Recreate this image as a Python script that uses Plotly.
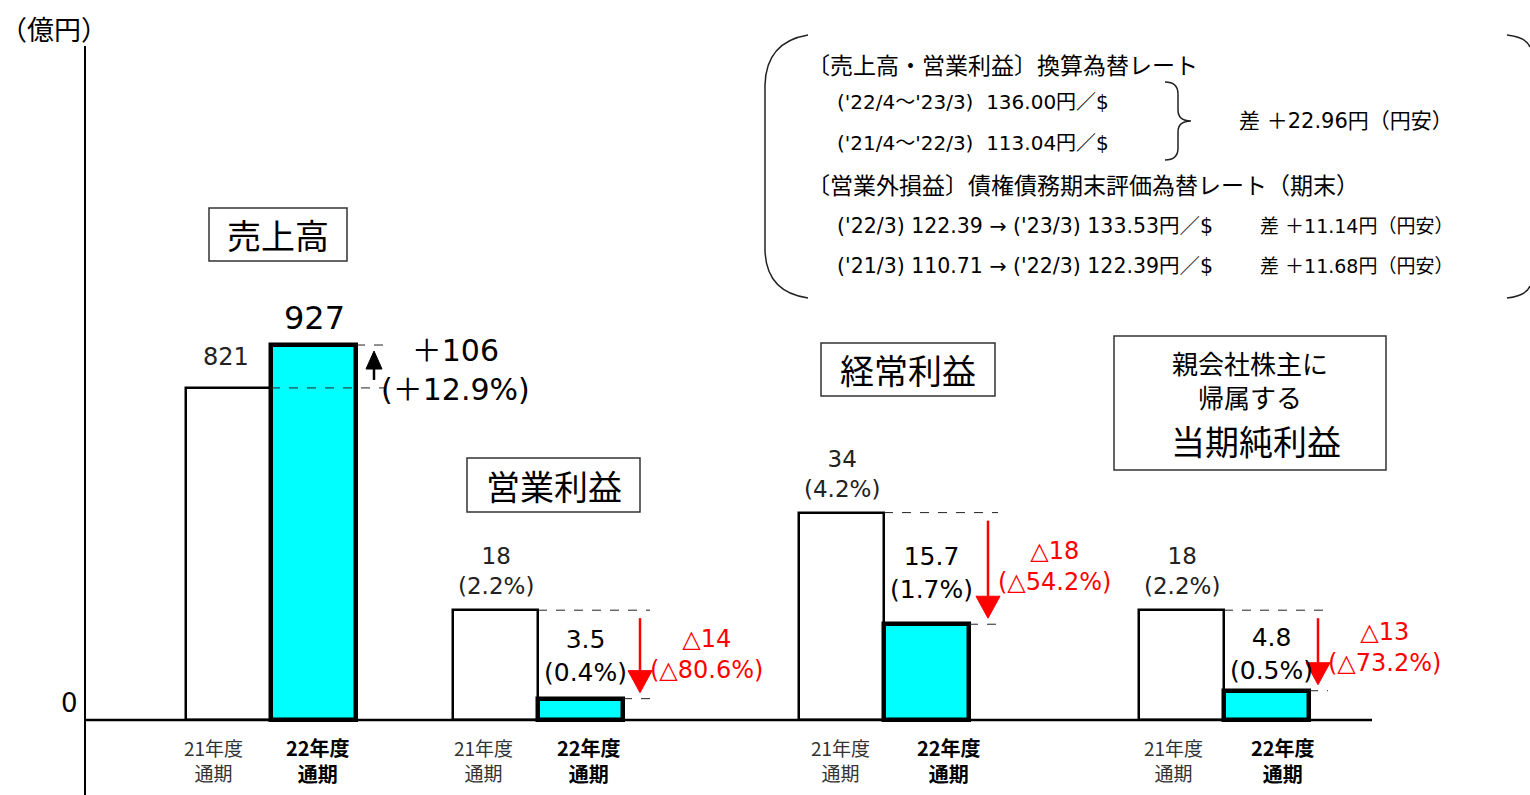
import plotly.graph_objects as go

# ---------------- data ----------------
segments = ["売上高", "営業利益", "経常利益", "親会社株主に帰属する当期純利益"]
fy21 = [821, 18, 34, 18]            # 21年度通期（億円）
fy22 = [927, 3.5, 15.7, 4.8]        # 22年度通期（億円）
ratio21 = [None, 2.2, 4.2, 2.2]     # 売上高比（%）
ratio22 = [None, 0.4, 1.7, 0.5]
diff = [106, -14, -18, -13]
diff_pct = [12.9, -80.6, -54.2, -73.2]
period_labels = ["21年度<br>通期", "<b>22年度<br>通期</b>"]
unit_label = "（億円）"

fx_avg_periods = ["'22/4～'23/3", "'21/4～'22/3"]
fx_avg_rates = ["136.00", "113.04"]
fx_avg_diff = "22.96"
fx_end_from = [("'22/3", "122.39"), ("'21/3", "110.71")]
fx_end_to = [("'23/3", "133.53"), ("'22/3", "122.39")]
fx_end_diff = ["11.14", "11.68"]

# ---------------- layout constants ----------------
W, H = 1530, 795
ZERO_PX = 720            # pixel row of the zero line
SALES_K = 0.4045         # px per 億円 (sales scale)
PROFIT_K = 6.1           # px per 億円 (profit scale)
FONT = "Noto Sans CJK JP"
NUM_FONT = "DejaVu Sans, Noto Sans CJK JP"
CYAN = "#00FFFF"
RED = "#FF0000"

group_center = [271, 538, 884, 1224]
BAR_W = 85
arrow_x = [374, 640, 988, 1318]
label22_shift = [0, 10, 18, 4]
red_shift = [0, 0, 2, 3]
period21_x = [213, 483, 840, 1173]
period22_x = [318, 589, 949, 1283]


def yrange(k):
    return [-(H - ZERO_PX) / k, ZERO_PX / k]


fig = go.Figure()

# ---------------- bars ----------------
for axis, idx in (("y", [0]), ("y2", [1, 2, 3])):
    fig.add_trace(go.Bar(
        x=[group_center[i] - BAR_W / 2 for i in idx],
        y=[fy21[i] for i in idx], width=BAR_W, yaxis=axis,
        marker=dict(color="white", line=dict(color="black", width=2.5)),
        hoverinfo="skip"))
    fig.add_trace(go.Bar(
        x=[group_center[i] + BAR_W / 2 for i in idx],
        y=[fy22[i] for i in idx], width=BAR_W, yaxis=axis,
        marker=dict(color=CYAN, line=dict(color="black", width=4.5)),
        hoverinfo="skip"))

# pixel-coordinate helper axis for frames and text
fig.add_trace(go.Scatter(x=[], y=[], yaxis="y3", hoverinfo="skip"))

shapes = []
annotations = []


def text(x, y, s, size, yref="y3", color="black", xanchor="center",
         yanchor="middle", yshift=0, align="center", family=FONT):
    annotations.append(dict(
        x=x, y=y, xref="x", yref=yref, text=s, showarrow=False,
        xanchor=xanchor, yanchor=yanchor, yshift=yshift, align=align,
        font=dict(family=family, size=size, color=color)))


def fmt(v):
    return f"{v:g}"


# axis lines
shapes.append(dict(type="line", xref="x", yref="y3", x0=85, x1=85, y0=46, y1=H,
                   line=dict(color="black", width=2)))
shapes.append(dict(type="line", xref="x", yref="y", x0=85, x1=1372, y0=0, y1=0,
                   line=dict(color="black", width=2.5)))
text(69, 703, "0", 26, family=NUM_FONT)
text(54, 28, unit_label, 27)

# ---------------- per segment marks ----------------
for i in range(4):
    yref = "y" if i == 0 else "y2"
    k = SALES_K if i == 0 else PROFIT_K
    c = group_center[i]
    ax = arrow_x[i]
    a, b = fy21[i], fy22[i]

    # dashed guide lines at both levels
    shapes.append(dict(type="line", xref="x", yref=yref, x0=c, x1=ax + 10,
                       y0=a, y1=a, line=dict(color="#222", width=1, dash="dash")))
    shapes.append(dict(type="line", xref="x", yref=yref, x0=c + BAR_W, x1=ax + 10,
                       y0=b, y1=b, line=dict(color="#222", width=1, dash="dash")))

    # arrow from last year's level to this year's level
    col = "black" if b > a else RED
    head_h = (18 if b > a else 22) / k
    head_w = 8 if b > a else 12
    sign = 1 if b > a else -1
    tip = b - sign * 6 / k
    base = tip - sign * head_h
    start = a + sign * 8 / k
    shapes.append(dict(type="line", xref="x", yref=yref, x0=ax, x1=ax,
                       y0=start, y1=base, line=dict(color=col, width=2.5)))
    shapes.append(dict(type="path", xref="x", yref=yref,
                       path=f"M {ax - head_w},{base} L {ax + head_w},{base} L {ax},{tip} Z",
                       fillcolor=col, line=dict(color=col, width=1)))

    mid = (a + b) / 2
    if i == 0:
        text(c - BAR_W / 2 - 3, a, fmt(a), 24, yref=yref, color="#222", yshift=31,
             family=NUM_FONT)
        text(c + BAR_W / 2 + 1, b, fmt(b), 32, yref=yref, yshift=27, family=NUM_FONT)
        text(ax + 5, mid, f"＋{diff[i]}<br>(＋{diff_pct[i]}%)", 30, yref=yref,
             xanchor="left", yshift=-4, family=NUM_FONT)
    else:
        text(c - BAR_W / 2, a, f"{fmt(a)}<br>({ratio21[i]}%)", 23, yref=yref,
             color="#222", yanchor="bottom", yshift=9, family=NUM_FONT)
        text(c + BAR_W / 2 + 5, b, f"{fmt(b)}<br>({ratio22[i]}%)", 25, yref=yref,
             yanchor="bottom", yshift=label22_shift[i], family=NUM_FONT)
        text(ax + 8, mid, f"△{abs(diff[i])}<br>(△{abs(diff_pct[i])}%)", 24,
             yref=yref, color=RED, xanchor="left", yshift=red_shift[i],
             family=NUM_FONT)

    # period labels under the bars
    text(period21_x[i], 760, period_labels[0], 19, color="#333")
    text(period22_x[i], 760, period_labels[1], 20)

# ---------------- segment title boxes ----------------
title_boxes = [(209, 208, 347, 261), (467, 458, 640, 512), (821, 343, 995, 396)]
for i, (x0, y0, x1, y1) in enumerate(title_boxes):
    shapes.append(dict(type="rect", xref="x", yref="y3", x0=x0, x1=x1, y0=y0, y1=y1,
                       line=dict(color="#333", width=1.5), fillcolor="rgba(0,0,0,0)"))
    text((x0 + x1) / 2, (y0 + y1) / 2, segments[i], 34)

net = segments[3]
shapes.append(dict(type="rect", xref="x", yref="y3", x0=1114, x1=1386, y0=336, y1=470,
                   line=dict(color="#333", width=1.5), fillcolor="rgba(0,0,0,0)"))
text(1250, 379, f"{net[:6]}<br>{net[6:10]}", 26)
text(1256, 440, net[10:], 34)

# ---------------- exchange-rate panel ----------------
shapes.append(dict(type="path", xref="x", yref="y3",
                   path="M 808,35 Q 766,42 765,85 L 765,250 Q 766,292 808,298",
                   line=dict(color="#222", width=1.5)))
shapes.append(dict(type="path", xref="x", yref="y3",
                   path="M 1507,35 Q 1526,37 1530,47", line=dict(color="#222", width=1.5)))
shapes.append(dict(type="path", xref="x", yref="y3",
                   path="M 1507,298 Q 1526,296 1530,286", line=dict(color="#222", width=1.5)))
shapes.append(dict(type="path", xref="x", yref="y3",
                   path=("M 1165,82 Q 1178,82 1178,94 L 1178,110 Q 1178,121 1191,121 "
                         "Q 1178,121 1178,132 L 1178,148 Q 1178,160 1165,160"),
                   line=dict(color="#222", width=1.5)))

text(805, 64, "〔売上高・営業利益〕換算為替レート", 23, xanchor="left")
for j, yy in enumerate((102, 143)):
    text(835, yy, f"({fx_avg_periods[j]})  {fx_avg_rates[j]}円／$", 20,
         xanchor="left", family=NUM_FONT)
text(1237, 121, f"差 ＋{fx_avg_diff}円（円安）", 21, xanchor="left", family=NUM_FONT)

text(805, 184, "〔営業外損益〕債権債務期末評価為替レート（期末）", 23, xanchor="left")
for j, yy in enumerate((226, 266)):
    f0, f1 = fx_end_from[j]
    t0, t1 = fx_end_to[j]
    text(835, yy, f"({f0}) {f1} → ({t0}) {t1}円／$", 20.5, xanchor="left",
         family=NUM_FONT)
    text(1258, yy, f"差 ＋{fx_end_diff[j]}円（円安）", 19, xanchor="left",
         family=NUM_FONT)

fig.update_layout(
    width=W, height=H, margin=dict(l=0, r=0, t=0, b=0),
    paper_bgcolor="white", plot_bgcolor="white",
    showlegend=False, barmode="overlay", bargap=0,
    xaxis=dict(range=[0, W], visible=False, fixedrange=True),
    yaxis=dict(range=yrange(SALES_K), visible=False, fixedrange=True),
    yaxis2=dict(range=yrange(PROFIT_K), overlaying="y", visible=False, fixedrange=True),
    yaxis3=dict(range=[H, 0], overlaying="y", visible=False, fixedrange=True),
    shapes=shapes, annotations=annotations,
    font=dict(family=FONT),
)

fig.write_html("out.html")
